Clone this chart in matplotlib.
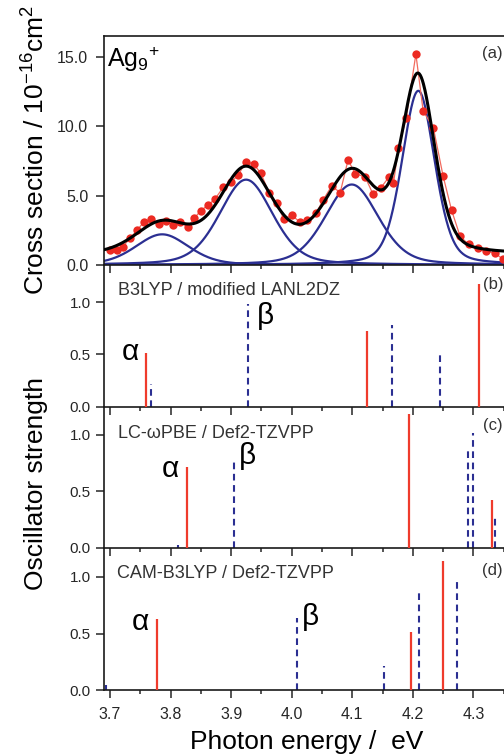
import numpy as np
import matplotlib
matplotlib.use("Agg")
import matplotlib.pyplot as plt
from matplotlib.ticker import MultipleLocator, FormatStrFormatter

plt.rcParams['font.family'] = ['Liberation Sans', 'DejaVu Sans']
plt.rcParams['mathtext.fontset'] = 'custom'
plt.rcParams['mathtext.rm'] = 'Liberation Sans'

# ---------------- data ----------------
# panel (a): experimental photodepletion cross section
exp_energy = [3.700, 3.711, 3.721, 3.733, 3.745, 3.756, 3.767, 3.780, 3.792, 3.804,
              3.816, 3.828, 3.839, 3.850, 3.862, 3.873, 3.887, 3.900, 3.912, 3.924,
              3.937, 3.949, 3.963, 3.975, 3.987, 4.000, 4.013, 4.026, 4.040, 4.052,
              4.066, 4.080, 4.093, 4.105, 4.121, 4.134, 4.147, 4.161, 4.168, 4.176,
              4.189, 4.205, 4.217, 4.234, 4.250, 4.264, 4.278, 4.292, 4.307, 4.321,
              4.336, 4.349]
exp_sigma = [1.10, 1.10, 1.32, 1.92, 2.52, 3.12, 3.29, 2.96, 3.19, 2.88,
             3.12, 2.72, 3.37, 3.92, 4.33, 4.74, 5.60, 6.00, 6.49, 7.45,
             7.28, 6.61, 5.17, 4.45, 3.30, 3.58, 3.12, 3.24, 3.73, 4.69,
             5.70, 5.21, 7.57, 6.56, 6.37, 5.12, 5.55, 6.37, 5.89, 8.41,
             10.58, 15.20, 11.10, 9.86, 6.40, 3.94, 2.07, 1.48, 1.20, 1.00,
             0.85, 0.40]

# fitted peak components: center (eV), height, width sigma (eV), lorentzian fraction
fit_centers = [3.786, 3.9246, 4.0991, 4.209]
fit_heights = [2.21, 6.15, 5.80, 12.55]
fit_sigmas = [0.044, 0.044, 0.044, 0.027]
fit_eta = 0.3
fit_baseline = [0.68, 0.72]   # at left / right end of the energy range

# panel (b): B3LYP / modified LANL2DZ
b_red_E = [3.759, 4.124, 4.310]
b_red_f = [0.511, 0.728, 1.175]
b_blue_E = [3.768, 3.927, 4.165, 4.245]
b_blue_f = [0.217, 0.981, 0.783, 0.495]

# panel (c): LC-wPBE / Def2-TZVPP
c_red_E = [3.827, 4.194, 4.330]
c_red_f = [0.713, 1.186, 0.423]
c_blue_E = [3.813, 3.904, 4.2916, 4.300, 4.336]
c_blue_f = [0.024, 0.763, 0.896, 1.02, 0.27]

# panel (d): CAM-B3LYP / Def2-TZVPP
d_red_E = [3.777, 4.1965, 4.2504]
d_red_f = [0.626, 0.516, 1.139]
d_blue_E = [3.693, 4.009, 4.152, 4.2107, 4.2725]
d_blue_f = [0.047, 0.640, 0.214, 0.863, 0.952]

x_ticks = [3.7, 3.8, 3.9, 4.0, 4.1, 4.2, 4.3]
panel_letters = ['(a)', '(b)', '(c)', '(d)']
method_labels = ['B3LYP / modified LANL2DZ', 'LC-\u03c9PBE / Def2-TZVPP', 'CAM-B3LYP / Def2-TZVPP']

# ---------------- style ----------------
RED = '#ec2a22'
RED_LINE = '#f26b5e'
STICK_RED = '#ef3b2c'
BLUE = '#2b2f92'
TXT = '#262626'
XLIM = (3.69, 4.36)

fig = plt.figure(figsize=(5.04, 7.56), dpi=100)
W = 504.0
H = 756.0
left = 104 / W
width = (XLIM[1] - XLIM[0]) * 605.6 / W

def add_axes(top_px, bottom_px):
    return fig.add_axes([left, 1 - bottom_px / H, width, (bottom_px - top_px) / H])

ax_a = add_axes(36, 265)
ax_b = add_axes(265, 406.7)
ax_c = add_axes(406.7, 547.7)
ax_d = add_axes(547.7, 690.3)
axes = [ax_a, ax_b, ax_c, ax_d]

for ax in axes:
    ax.set_xlim(*XLIM)
    ax.xaxis.set_major_locator(MultipleLocator(0.1))
    ax.xaxis.set_minor_locator(MultipleLocator(0.05))
    ax.tick_params(axis='both', which='major', direction='out', length=5.8, width=1.1,
                   colors=TXT, labelsize=11.5, pad=4.5)
    ax.tick_params(axis='x', which='minor', direction='out', length=3.2, width=1.1, colors=TXT)
    ax.tick_params(axis='y', which='minor', left=False)
    ax.spines['right'].set_visible(False)
    for s in ['left', 'bottom', 'top']:
        ax.spines[s].set_linewidth(1.2)
        ax.spines[s].set_color('#1a1a1a')
    ax.patch.set_alpha(0)
    if ax is not ax_d:
        ax.tick_params(axis='x', labelbottom=False)
    if ax is not ax_a:
        ax.spines['top'].set_visible(False)

# ---- panel (a) ----
e = np.linspace(XLIM[0], XLIM[1], 800)
base = np.interp(e, [XLIM[0], XLIM[1]], fit_baseline)
comps = []
for c, h, s in zip(fit_centers, fit_heights, fit_sigmas):
    gam = s * np.sqrt(2 * np.log(2))
    g = np.exp(-(e - c) ** 2 / (2 * s ** 2))
    lor = 1.0 / (1.0 + ((e - c) / gam) ** 2)
    comps.append(h * ((1 - fit_eta) * g + fit_eta * lor))
total = base + np.sum(comps, axis=0)

for comp in comps:
    ax_a.plot(e, comp, color=BLUE, lw=1.6, zorder=2)
ax_a.plot(exp_energy, exp_sigma, color=RED_LINE, lw=0.9, zorder=3)
ax_a.plot(exp_energy, exp_sigma, 'o', color=RED, ms=6.0, mec='none', zorder=3)
ax_a.plot(e, total, color='black', lw=2.2, zorder=4)

ax_a.set_ylim(0, 16.5)
ax_a.yaxis.set_major_locator(MultipleLocator(5))
ax_a.yaxis.set_major_formatter(FormatStrFormatter('%.1f'))
ax_a.tick_params(axis='y', pad=5.5)
ax_a.text(3.6945, 14.3, r'Ag$_\mathregular{9}$$^\mathregular{+}$', fontsize=18, color='black',
          va='baseline', ha='left')

# ---- stick panels ----
stick_sets = [
    (ax_b, b_red_E, b_red_f, b_blue_E, b_blue_f, 1.357),
    (ax_c, c_red_E, c_red_f, c_blue_E, c_blue_f, 1.251),
    (ax_d, d_red_E, d_red_f, d_blue_E, d_blue_f, 1.256),
]
for ax, rE, rf, bE, bf, ytop in stick_sets:
    ax.vlines(bE, 0, bf, colors=BLUE, linewidth=1.5, linestyles=(0, (3.2, 2.2)), zorder=2)
    ax.vlines(rE, 0, rf, colors=STICK_RED, linewidth=1.6, zorder=3)
    ax.set_ylim(0, ytop)
    ax.yaxis.set_major_locator(MultipleLocator(0.5))
    ax.yaxis.set_major_formatter(FormatStrFormatter('%.1f'))
    ax.tick_params(axis='y', labelsize=11, pad=3.8)

ax_d.set_xticks(x_ticks)
ax_d.xaxis.set_major_formatter(FormatStrFormatter('%.1f'))
ax_d.tick_params(axis='x', labelsize=11.5, pad=6.5)

# method labels
ax_b.text(3.7137, 0.882, method_labels[0], transform=ax_b.get_xaxis_transform(),
          fontsize=13, color='#333333', va='top', ha='left')
ax_c.text(3.7137, 0.870, method_labels[1], transform=ax_c.get_xaxis_transform(),
          fontsize=13, color='#333333', va='top', ha='left')
ax_d.text(3.7110, 0.879, method_labels[2], transform=ax_d.get_xaxis_transform(),
          fontsize=13, color='#333333', va='top', ha='left')

# panel letters
for ax, lab, yf in zip(axes, panel_letters, [0.956, 0.917, 0.92, 0.895]):
    ax.text(4.349, yf, lab, transform=ax.get_xaxis_transform(), fontsize=12,
            color='#333333', ha='right', va='top')

# alpha / beta labels
ab_font = 21.5
ax_b.text(3.7200, 0.447, '\u03b1', fontsize=ab_font, color='black', va='baseline', ha='left')
ax_b.text(3.9420, 0.790, '\u03b2', fontsize=ab_font, color='black', va='baseline', ha='left')
ax_c.text(3.7855, 0.630, '\u03b1', fontsize=ab_font, color='black', va='baseline', ha='left')
ax_c.text(3.9125, 0.745, '\u03b2', fontsize=ab_font, color='black', va='baseline', ha='left')
ax_d.text(3.7360, 0.531, '\u03b1', fontsize=ab_font, color='black', va='baseline', ha='left')
ax_d.text(4.0165, 0.572, '\u03b2', fontsize=ab_font, color='black', va='baseline', ha='left')

# axis labels
fig.text(43.5 / W, 1 - 150 / H, r'Cross section / 10$^\mathregular{-16}$cm$^\mathregular{2}$',
         rotation=90, rotation_mode='anchor', ha='center', va='baseline', fontsize=19, color='black')
fig.text(43.5 / W, 1 - 484 / H, 'Oscillator strength', rotation=90, rotation_mode='anchor',
         ha='center', va='baseline', fontsize=19, color='black')
fig.text(306.5 / W, 1 - 749 / H, 'Photon energy /  eV', ha='center', va='baseline',
         fontsize=19, color='black')

fig.savefig('out.png', dpi=100)
